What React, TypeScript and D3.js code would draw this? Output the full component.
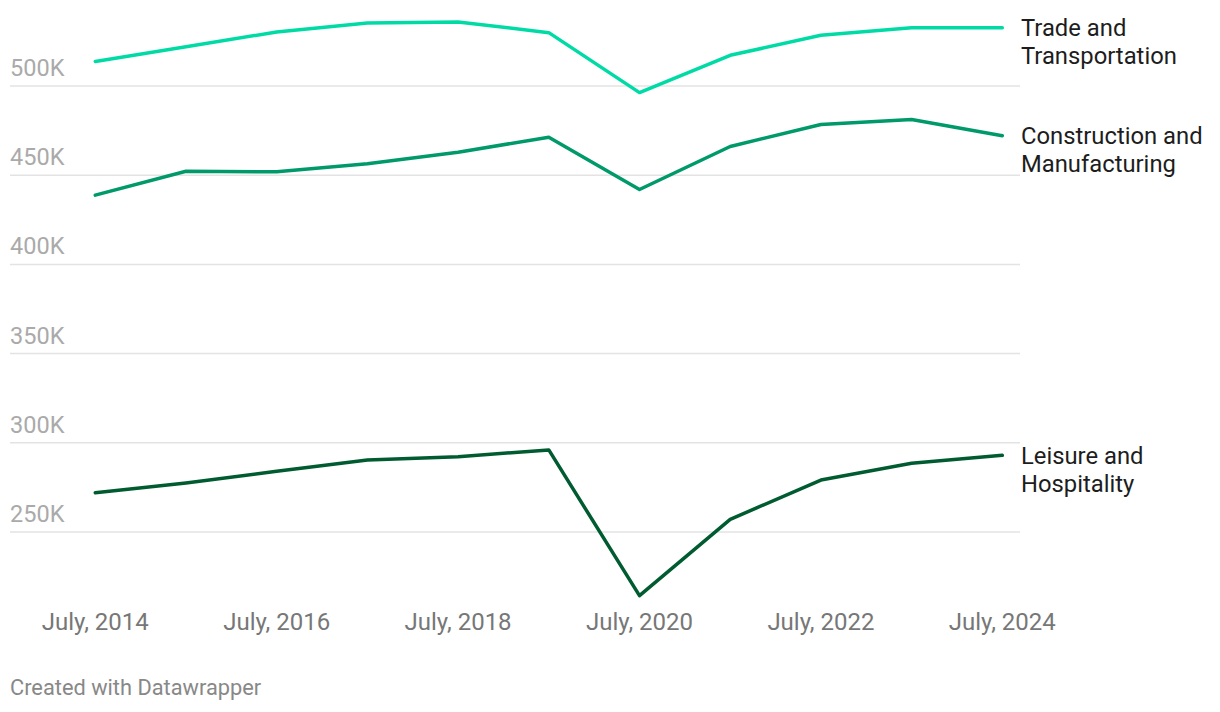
import { useEffect } from 'react';
import * as d3 from 'd3';

const years = [2014, 2015, 2016, 2017, 2018, 2019, 2020, 2021, 2022, 2023, 2024];
const tradeTransport = [513.7, 522, 530.3, 535.3, 535.9, 529.9, 496.3, 517.2, 528.4, 532.7, 532.7];
const constructionMfg = [438.8, 452.2, 451.9, 456.4, 462.9, 471.3, 442, 466.1, 478.4, 481.2, 472.1];
const leisureHosp = [272, 277.5, 284, 290.4, 292.2, 296, 214.3, 257.1, 279.1, 288.5, 293];
const yTicks = [250, 300, 350, 400, 450, 500];
const xTicks = [2014, 2016, 2018, 2020, 2022, 2024];

const series = [
  { name: ['Trade and', 'Transportation'], values: tradeTransport, color: '#00dba6' },
  { name: ['Construction and', 'Manufacturing'], values: constructionMfg, color: '#00996a' },
  { name: ['Leisure and', 'Hospitality'], values: leisureHosp, color: '#005c30' },
];

const App = () => {
  useEffect(() => {
    document.body.style.margin = '0';
  }, []);

  const width = 1220;
  const height = 712;
  const x = d3.scaleLinear().domain([2014, 2024]).range([95.3, 1002.3]);
  const y = d3.scaleLinear().domain([250, 500]).range([532, 86]);

  const line = d3
    .line<number>()
    .x((_, i) => x(years[i]))
    .y((d) => y(d));

  const font = 'Roboto, sans-serif';

  return (
    <svg width={width} height={height} style={{ display: 'block', background: '#fff' }}>
      <g>
        {yTicks.map((t) => (
          <g key={t}>
            <line x1={10} x2={1020} y1={y(t)} y2={y(t)} stroke="#e3e3e3" strokeWidth={1.5} />
            <text x={10} y={y(t) - 10} fontFamily={font} fontSize={23.5} fill="#aaaaaa">
              {t}K
            </text>
          </g>
        ))}
      </g>
      <g>
        {xTicks.map((t) => (
          <text key={t} x={x(t)} y={630} textAnchor="middle" fontFamily={font} fontSize={24} fill="#777777">
            July, {t}
          </text>
        ))}
      </g>
      <g>
        {series.map((s) => (
          <g key={s.name[0]}>
            <path
              d={line(s.values) ?? ''}
              fill="none"
              stroke={s.color}
              strokeWidth={3.5}
              strokeLinejoin="round"
              strokeLinecap="round"
            />
            <text x={1021} y={y(s.values[s.values.length - 1]) + 8.5} fontFamily={font} fontSize={23.8} fill="#1d1d1d">
              {s.name.map((n, i) => (
                <tspan key={i} x={1021} dy={i === 0 ? 0 : 28}>
                  {n}
                </tspan>
              ))}
            </text>
          </g>
        ))}
      </g>
      <text x={10} y={695} fontFamily={font} fontSize={21.8} fill="#888888">
        Created with Datawrapper
      </text>
    </svg>
  );
};

export default App;
